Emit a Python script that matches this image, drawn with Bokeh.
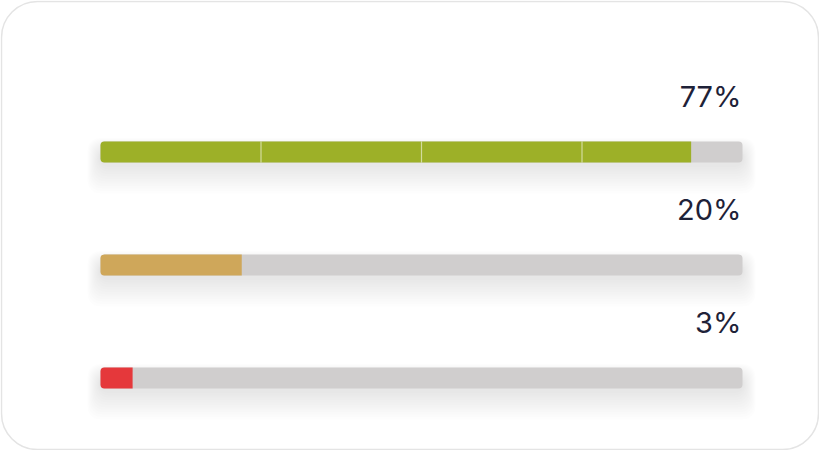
from bokeh.plotting import figure
from bokeh.models import Range1d, ColumnDataSource
from bokeh.embed import file_html
from bokeh.resources import INLINE
from bokeh.core.properties import value

# ---- data ----
labels = ["77%", "20%", "3%"]          # labels printed above bars
values = [77, 20, 3]                   # stated shares
fill_shown = [92, 22, 5]               # filled length of each bar as drawn
colors = ["#9DB028", "#CFA75A", "#E5383B"]
rows = [0, 1, 2]
ticks = [25, 50, 75]                   # segment separators

W, H = 819, 450
XS = 6.42      # px per percent
YS = 113.0     # px per row
x0 = -100 / XS
x1 = x0 + W / XS
ytop = -151.5 / YS
ybot = ytop + H / YS

p = figure(width=W, height=H, output_backend="svg", toolbar_location=None,
           x_range=Range1d(x0, x1), y_range=Range1d(ybot, ytop),
           min_border=0, outline_line_color=None)
p.xaxis.visible = False
p.yaxis.visible = False
p.grid.visible = False
p.background_fill_color = "white"
p.border_fill_color = "white"

# card
p.quad(left=[x0 + 1 / XS], right=[x1 - 1 / XS], top=[ytop + 1 / YS], bottom=[ybot - 1 / YS],
       fill_color="white", line_color="#e4e4e4", line_width=1.5, border_radius=36)

bh = 21 / YS
# soft shadows
for i in range(12):
    p.hbar(y=[r + (6 + i * 0.7) / YS for r in rows], left=-(2 + i) / XS, right=100 + (2 + i) / XS,
           height=(18 + i * 3.4) / YS, fill_color="#000000", fill_alpha=0.009,
           line_color=None, border_radius=12)

# track
p.hbar(y=rows, left=0, right=100, height=bh, fill_color="#D0CECE", line_color=None,
       border_radius=4)

# filled part
src = ColumnDataSource(dict(y=rows, right=fill_shown, color=colors, label=labels, v=values))
p.hbar(y="y", left=0, right="right", height=bh, fill_color="color", line_color=None,
       source=src, border_radius=(4, 0, 0, 4))

# separators on filled part
sx, sy0, sy1 = [], [], []
for r, f in zip(rows, fill_shown):
    for t in ticks:
        if t < f:
            sx.append(t); sy0.append(r - bh / 2); sy1.append(r + bh / 2)
p.segment(x0=sx, x1=sx, y0=sy0, y1=sy1, line_color="white", line_alpha=0.55, line_width=1.2)

# labels
p.text(x=[100] * 3, y=rows, text=labels, text_align="right", text_baseline="alphabetic",
       x_offset=-1, y_offset=-56, text_font=value("Inter"), text_font_size="29px",
       text_color="#1E2238")

open("out.html", "w").write(file_html(p, INLINE))
